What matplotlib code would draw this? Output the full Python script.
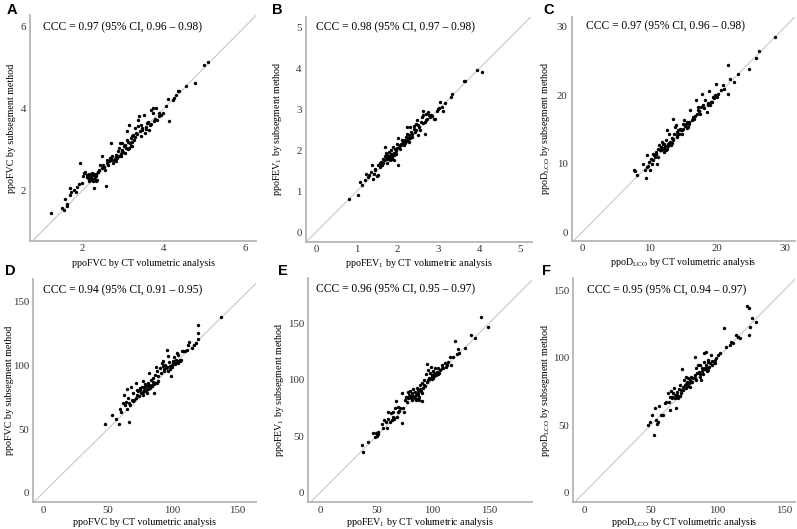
import matplotlib
matplotlib.use("Agg")
import matplotlib.pyplot as plt

plt.rcParams['font.family'] = ['Liberation Serif', 'DejaVu Serif']
plt.rcParams['mathtext.fontset'] = 'custom'
plt.rcParams['mathtext.rm'] = 'Liberation Serif'
plt.rcParams['mathtext.it'] = 'Liberation Serif:italic'

# ---- A: ppoFVC (L) ----
a_x = [1.24, 1.51, 1.55, 1.59, 1.63, 1.63, 1.70, 1.71, 1.73, 1.79, 1.84, 1.93, 1.94,
       2.08, 2.11, 2.14, 2.19, 2.22, 2.25, 2.27, 2.30, 2.33, 2.35, 2.37, 2.16, 2.29,
       2.41, 2.45, 2.48, 2.49, 2.53, 2.58, 2.60, 2.66, 2.70, 2.74, 2.77, 2.80, 2.82,
       2.86, 2.88, 2.91, 2.93, 2.70, 2.95, 2.99, 3.03, 3.05, 3.07, 3.09, 3.11, 3.15,
       3.18, 3.21, 3.23, 3.28, 3.32, 3.36, 3.40, 3.42, 3.44, 3.48, 3.51, 3.54, 3.60,
       3.65, 3.69, 3.73, 3.75, 3.77, 3.81, 3.85, 3.89, 3.93, 3.98, 4.06, 4.10, 4.14,
       4.22, 4.26, 4.30, 4.35, 4.39, 4.55, 4.76, 5.00, 5.10, 2.99, 3.23, 3.29, 3.37,
       3.44, 2.05, 2.12, 2.20, 2.24, 2.31, 2.38, 2.18, 2.26, 2.62, 2.72, 2.84, 2.96,
       3.01, 3.13, 3.19, 3.26, 3.58, 3.70, 2.15, 2.21, 2.28, 2.34, 2.40, 2.52, 2.56,
       2.64, 2.68, 2.78, 2.83, 2.90, 2.97, 3.06, 3.12, 3.16, 3.22, 3.30, 3.35, 3.46,
       3.56, 3.62, 3.67, 3.79, 3.88, 1.88, 2.00, 2.03]
a_y = [1.45, 1.58, 1.54, 1.80, 1.68, 1.62, 1.90, 2.07, 1.98, 2.02, 1.98, 2.17, 2.69,
       2.47, 2.39, 2.31, 2.27, 2.35, 2.43, 2.23, 2.28, 2.37, 2.41, 2.27, 2.23, 2.07,
       2.51, 2.63, 2.84, 2.55, 2.59, 2.11, 2.67, 2.72, 2.76, 2.84, 2.69, 2.77, 2.88,
       2.80, 2.96, 3.04, 3.16, 3.16, 2.84, 3.00, 3.08, 2.92, 3.04, 3.24, 3.45, 3.61,
       3.16, 3.08, 3.33, 3.24, 3.41, 3.73, 3.83, 3.45, 3.33, 3.53, 3.85, 3.41, 3.65,
       3.49, 3.98, 4.02, 3.89, 3.69, 4.02, 3.73, 3.81, 3.85, 3.89, 4.06, 4.24, 3.69,
       4.22, 4.26, 4.34, 4.42, 4.42, 4.54, 4.63, 5.07, 5.13, 3.16, 3.08, 3.53, 3.57,
       3.61, 2.44, 2.33, 2.36, 2.30, 2.34, 2.45, 2.42, 2.38, 2.74, 2.81, 2.73, 2.90,
       2.95, 3.02, 3.28, 3.37, 3.55, 3.62, 2.38, 2.30, 2.40, 2.25, 2.45, 2.62, 2.50,
       2.64, 2.80, 2.74, 2.83, 2.86, 2.94, 3.12, 3.20, 3.05, 3.18, 3.30, 3.38, 3.48,
       3.50, 3.67, 3.60, 3.75, 3.90, 2.10, 2.20, 2.37]

# ---- B: ppoFEV1 (L) ----
b_x = [0.82, 1.03, 1.07, 1.13, 1.21, 1.23, 1.27, 1.31, 1.35, 1.39, 1.41, 1.45, 1.49,
       1.52, 1.37, 1.53, 1.56, 1.57, 1.60, 1.62, 1.63, 1.66, 1.68, 1.70, 1.71, 1.73,
       1.75, 1.76, 1.78, 1.79, 1.82, 1.83, 1.84, 1.86, 1.88, 1.90, 1.92, 1.94, 1.96,
       1.98, 2.01, 2.02, 2.04, 2.06, 2.09, 2.10, 2.12, 2.15, 2.17, 2.19, 2.20, 2.23,
       2.23, 2.25, 2.27, 2.28, 2.31, 2.33, 2.35, 2.39, 2.41, 2.43, 2.45, 2.47, 2.50,
       2.51, 2.55, 2.58, 2.59, 2.61, 2.63, 2.66, 2.68, 2.69, 2.72, 2.74, 2.77, 2.80,
       2.84, 2.88, 2.92, 2.96, 3.00, 3.04, 3.08, 3.11, 3.15, 3.31, 3.33, 3.63, 3.65,
       3.94, 4.06, 1.80, 1.85, 1.72, 2.14, 2.22, 2.08, 1.95, 1.65, 1.74, 1.81, 1.87,
       1.91, 1.99, 2.05, 2.13, 2.18, 2.26, 2.30, 2.36, 2.44, 2.53, 2.62, 2.70, 2.82,
       2.98, 1.44, 1.58]
b_y = [0.81, 0.92, 1.22, 1.15, 1.27, 1.43, 1.35, 1.39, 1.47, 1.31, 1.43, 1.52, 1.37,
       1.39, 1.65, 1.64, 1.66, 1.60, 1.72, 1.64, 1.80, 1.77, 2.08, 1.85, 1.94, 1.69,
       1.88, 1.80, 1.96, 1.86, 1.76, 1.90, 2.00, 1.84, 2.08, 1.94, 1.77, 2.04, 1.92,
       2.15, 2.31, 1.65, 2.08, 2.02, 2.16, 2.26, 2.20, 2.12, 2.24, 2.18, 2.33, 2.41,
       2.57, 2.29, 2.20, 2.37, 2.57, 2.45, 2.33, 2.59, 2.53, 2.45, 2.65, 2.73, 2.61,
       2.37, 2.49, 2.69, 2.81, 2.97, 2.85, 2.69, 2.41, 2.89, 2.77, 2.93, 2.85, 2.81,
       2.83, 2.77, 2.77, 2.97, 3.04, 3.18, 3.06, 2.95, 3.16, 3.30, 3.38, 3.69, 3.68,
       3.97, 3.92, 1.82, 1.79, 1.78, 2.19, 2.22, 2.13, 1.98, 1.70, 1.82, 1.86, 1.92,
       1.88, 2.05, 2.12, 2.15, 2.21, 2.25, 2.31, 2.40, 2.50, 2.56, 2.66, 2.73, 2.87,
       3.02, 1.55, 1.68]

# ---- C: ppoDLCO (mL/min/mmHg) ----
c_x = [7.72, 7.87, 8.12, 9.10, 9.35, 9.49, 9.69, 9.59, 9.84, 9.98, 10.08, 10.18, 10.33,
       10.48, 10.57, 10.82, 10.97, 11.07, 11.31, 11.31, 11.46, 11.56, 11.66, 11.80,
       11.95, 12.05, 12.15, 12.30, 12.44, 12.54, 12.64, 12.79, 12.94, 13.03, 13.13,
       13.28, 13.43, 13.53, 13.63, 13.77, 13.92, 14.02, 14.12, 14.26, 14.41, 14.51,
       14.76, 14.90, 15.00, 15.10, 15.25, 15.39, 15.49, 15.74, 15.89, 15.98, 16.23,
       16.38, 16.48, 16.72, 16.87, 16.97, 17.12, 17.21, 17.46, 17.56, 17.81, 17.95,
       18.20, 18.45, 18.59, 18.84, 18.94, 19.03, 19.33, 19.67, 19.82, 19.92, 20.16,
       20.51, 20.90, 21.00, 21.64, 21.64, 21.89, 22.48, 23.12, 24.74, 25.73, 26.22,
       28.53, 12.20, 12.70, 13.30, 14.60, 15.60, 11.70, 18.70, 19.20, 11.00, 11.80,
       12.40, 12.90, 13.50, 14.00, 14.80, 15.30, 15.80, 16.60, 17.30, 18.00, 18.60,
       19.50, 10.60, 12.10]
c_y = [9.19, 8.99, 8.36, 9.97, 9.09, 7.97, 11.28, 9.58, 9.72, 10.31, 9.09, 10.79, 10.06,
       11.52, 10.55, 11.04, 11.76, 10.06, 12.25, 11.04, 12.74, 12.10, 12.49, 13.22,
       12.25, 12.88, 11.76, 12.59, 13.47, 12.25, 15.02, 12.98, 14.44, 13.22, 12.74,
       13.86, 13.47, 16.63, 14.44, 15.41, 15.65, 14.68, 13.95, 15.02, 14.44, 15.17,
       14.44, 15.90, 15.17, 16.38, 15.51, 15.80, 16.14, 15.41, 15.90, 17.94, 16.38,
       16.87, 16.63, 16.97, 19.40, 17.36, 18.33, 17.94, 17.36, 18.33, 20.27, 18.57,
       19.30, 17.60, 18.81, 20.66, 18.57, 19.06, 19.79, 20.03, 21.73, 19.79, 20.27,
       20.86, 21.49, 21.00, 24.41, 20.18, 22.46, 21.97, 23.09, 23.92, 25.47, 26.45,
       28.54, 12.40, 12.60, 13.10, 14.90, 15.30, 12.00, 18.60, 19.10, 11.50, 12.40,
       12.10, 13.00, 13.60, 14.20, 15.00, 15.70, 16.10, 16.50, 17.70, 18.20, 18.90,
       19.70, 11.30, 12.90]

# ---- D: ppoFVC (%) ----
d_x = [47.7, 52.8, 56.2, 58.8, 59.3, 59.8, 61.3, 62.4, 63.1, 63.9, 64.4, 64.9, 65.7,
       66.5, 67.0, 67.5, 68.3, 69.1, 69.6, 71.6, 71.6, 72.2, 72.7, 73.5, 74.2, 74.7,
       75.3, 76.0, 76.8, 77.3, 77.8, 78.6, 79.4, 79.9, 80.4, 81.2, 82.0, 82.5, 83.0,
       83.8, 84.5, 85.1, 85.6, 86.3, 87.1, 87.6, 88.1, 88.9, 90.2, 91.5, 92.3, 92.8,
       93.3, 94.1, 94.8, 95.4, 96.1, 96.6, 97.4, 97.9, 98.5, 99.2, 100.0, 100.5, 101.0,
       101.8, 102.6, 103.1, 103.9, 104.4, 105.7, 107.0, 108.2, 109.5, 110.8, 112.1,
       112.9, 114.7, 116.5, 118.0, 119.3, 119.8, 119.8, 137.1, 80.8, 83.4, 86.0, 78.0,
       98.0, 101.5, 104.0, 106.5, 75.0, 77.0, 80.0, 82.0, 84.0, 86.5, 88.5, 91.0,
       93.5, 96.0, 99.5, 102.0, 103.5, 106.0, 70.0, 66.0]
d_y = [53.8, 60.7, 58.0, 53.8, 65.7, 63.8, 70.4, 76.4, 69.1, 71.2, 81.7, 65.9, 74.3,
       55.4, 69.1, 82.7, 73.0, 71.7, 78.3, 74.3, 86.2, 80.9, 77.0, 79.6, 75.6, 82.2,
       78.3, 82.7, 88.0, 77.0, 80.9, 85.4, 79.6, 83.5, 78.3, 86.2, 94.0, 82.2, 88.8,
       84.8, 90.1, 86.9, 78.3, 92.7, 98.5, 86.2, 95.3, 91.4, 98.0, 101.9, 99.3, 103.8,
       95.9, 100.6, 98.0, 112.4, 107.2, 95.3, 102.7, 99.3, 91.4, 100.6, 103.8, 101.9,
       106.4, 103.2, 104.5, 109.8, 103.8, 108.0, 103.2, 111.6, 111.6, 111.1, 112.4,
       116.4, 118.5, 113.7, 116.4, 117.7, 121.1, 132.1, 125.6, 137.9, 81.5, 84.0, 85.5,
       83.0, 97.0, 102.5, 102.0, 104.0, 80.5, 79.0, 81.5, 84.5, 83.5, 86.0, 88.0, 94.0,
       97.5, 99.0, 98.5, 101.5, 102.5, 104.0, 73.0, 70.5]

# ---- E: ppoFEV1 (%) ----
e_x = [37.0, 38.5, 42.3, 47.3, 48.8, 49.4, 50.3, 51.2, 51.8, 54.7, 56.2, 57.1, 58.3,
       59.2, 60.1, 60.7, 62.1, 63.0, 63.6, 64.5, 65.1, 66.0, 66.6, 67.5, 68.0, 68.9,
       69.5, 71.0, 72.5, 73.1, 74.0, 74.9, 75.4, 76.0, 76.9, 77.8, 78.4, 79.0, 79.9,
       80.8, 81.4, 82.0, 82.8, 83.7, 84.3, 84.9, 85.8, 86.7, 87.3, 87.9, 88.8, 89.6,
       90.2, 90.8, 91.7, 92.6, 93.2, 93.8, 94.7, 95.6, 96.2, 96.7, 97.6, 98.5, 99.1,
       100.0, 100.6, 101.5, 102.1, 102.7, 103.6, 104.4, 105.0, 106.5, 108.0, 109.5,
       110.9, 112.4, 113.9, 115.4, 116.3, 118.3, 119.8, 121.3, 122.8, 123.7, 128.7,
       134.0, 137.6, 142.9, 149.4, 86.0, 88.0, 90.5, 84.5, 99.5, 104.0, 80.0, 82.5,
       85.0, 87.0, 89.0, 92.0, 95.0, 97.0, 99.5, 101.0, 103.0, 106.0, 108.5, 111.5,
       70.0, 66.0]
e_y = [42.2, 35.7, 44.6, 52.6, 49.6, 52.6, 50.5, 51.7, 54.0, 60.5, 57.6, 64.4, 62.3,
       57.0, 65.2, 71.7, 62.9, 70.3, 64.4, 67.3, 71.7, 65.2, 74.7, 81.2, 67.3, 76.2,
       71.7, 74.7, 88.0, 61.4, 74.7, 71.7, 82.1, 85.0, 80.6, 88.9, 83.6, 86.5, 90.0,
       83.6, 88.0, 82.1, 91.8, 85.0, 89.5, 82.1, 93.0, 86.5, 90.9, 85.0, 95.4, 90.0,
       81.2, 96.8, 92.4, 99.8, 94.8, 104.8, 113.7, 99.8, 108.7, 101.9, 105.7, 111.6,
       104.2, 101.3, 107.8, 105.7, 110.1, 104.2, 107.2, 104.8, 110.1, 108.7, 113.1,
       110.1, 114.6, 113.1, 116.0, 120.5, 113.1, 120.5, 134.3, 122.5, 127.3, 123.4,
       128.4, 139.7, 136.7, 155.9, 147.0, 83.0, 82.5, 88.5, 84.0, 101.0, 106.0, 86.0,
       85.5, 86.5, 88.0, 92.0, 95.5, 98.0, 100.5, 102.5, 103.0, 105.5, 106.0, 110.5,
       111.5, 72.0, 66.0]

# ---- F: ppoDLCO (%) ----
f_x = [48.0, 49.3, 51.2, 52.2, 53.0, 53.7, 55.0, 55.5, 56.2, 58.0, 59.2, 60.4, 61.7,
       62.9, 63.7, 64.2, 64.7, 65.4, 66.2, 66.7, 67.2, 67.9, 68.7, 69.2, 69.7, 70.4,
       71.1, 71.6, 72.1, 72.9, 73.6, 74.1, 74.6, 75.4, 76.1, 76.6, 77.1, 77.9, 78.6,
       79.1, 79.6, 80.3, 81.1, 81.6, 82.8, 82.8, 83.6, 84.1, 84.6, 85.3, 86.1, 86.6,
       87.1, 87.8, 88.6, 89.1, 89.6, 90.0, 90.5, 91.0, 91.5, 92.0, 92.8, 93.5, 94.0,
       95.3, 96.0, 97.0, 97.8, 99.0, 100.2, 101.5, 104.7, 106.5, 109.0, 110.2, 111.4,
       113.9, 115.2, 116.9, 121.9, 123.4, 123.9, 124.4, 125.9, 128.9, 68.0, 70.0, 90.8,
       92.3, 93.0, 72.5, 74.0, 76.5, 78.0, 80.5, 83.0, 86.5, 88.0, 90.0, 91.5, 93.0,
       95.5, 98.0, 70.0, 66.0]
f_y = [50.1, 52.6, 57.5, 42.7, 62.4, 53.8, 50.6, 52.1, 64.4, 57.5, 57.5, 66.1, 66.9,
       73.5, 67.4, 61.2, 71.1, 75.3, 69.8, 73.5, 77.2, 72.3, 62.4, 71.1, 74.8, 69.8,
       76.7, 71.8, 79.7, 73.5, 91.5, 76.0, 83.4, 79.7, 77.7, 85.9, 81.7, 84.6, 80.9,
       78.5, 83.4, 85.9, 82.2, 84.6, 100.7, 87.1, 83.4, 92.0, 88.3, 94.5, 89.6, 85.9,
       94.5, 83.4, 92.0, 87.6, 103.1, 97.0, 92.0, 104.4, 94.5, 90.1, 98.2, 93.3, 95.7,
       101.9, 94.5, 97.0, 95.7, 99.4, 101.9, 103.1, 122.1, 108.1, 109.3, 111.8, 110.6,
       116.7, 115.5, 114.7, 138.4, 116.7, 136.4, 122.9, 129.0, 126.6, 70.5, 72.0, 91.5,
       92.0, 90.5, 76.0, 78.0, 80.5, 79.0, 82.0, 85.0, 88.0, 90.0, 91.5, 92.5, 96.5,
       97.5, 98.5, 72.5, 71.0]

ccc_text = ["CCC = 0.97 (95% CI, 0.96 \u2013 0.98)",
            "CCC = 0.98 (95% CI, 0.97 \u2013 0.98)",
            "CCC = 0.97 (95% CI, 0.96 \u2013 0.98)",
            "CCC = 0.94 (95% CI, 0.91 \u2013 0.95)",
            "CCC = 0.96 (95% CI, 0.95 \u2013 0.97)",
            "CCC = 0.95 (95% CI, 0.94 \u2013 0.97)"]
letters = ["A", "B", "C", "D", "E", "F"]
names = ["ppoFVC", r"ppoFEV$_1$", r"ppoD$_{\mathrm{LCO}}$",
         "ppoFVC", r"ppoFEV$_1$", r"ppoD$_{\mathrm{LCO}}$"]
ticks = [[2, 4, 6], [0, 1, 2, 3, 4, 5], [0, 10, 20, 30],
         [0, 50, 100, 150], [0, 50, 100, 150], [0, 50, 100, 150]]
xlims = [(0.72, 6.27), (-0.25, 5.28), (-1.5, 31.5), (-7.7, 164.5), (-10.4, 188), (-8, 158)]
ylims = [(0.78, 6.28), (-0.23, 5.26), (-1.2, 31.5), (-7.6, 168), (-8.5, 190), (-7, 158.7)]
xs = [a_x, b_x, c_x, d_x, e_x, f_x]
ys = [a_y, b_y, c_y, d_y, e_y, f_y]

# axes boxes in pixels: left, right, top, bottom
W, H = 797, 529
boxes = [(30, 256, 15, 241), (305.7, 531.7, 16.7, 241.7), (571.7, 795, 16.7, 240.7),
         (33.3, 256, 279, 502.3), (308.3, 531.7, 278.3, 502.3), (573.3, 795, 278.3, 502.3)]
ccc_pos = [(0.057, 0.947), (0.044, 0.954), (0.064, 0.955),
           (0.045, 0.951), (0.033, 0.951), (0.060, 0.948)]
letter_pos = [(7, 10), (272, 10), (543, 10), (5, 271), (278, 271), (542, 271)]
ylabel_x = [12, 278, 545, 10, 280, 545]   # centre of y label, pixels
xlabel_gap = [22, 22, 22, 20, 20, 20]     # axis bottom to x label centre, pixels

fig = plt.figure(figsize=(W / 100, H / 100), dpi=100)

for i in range(6):
    l, r, t, b = boxes[i]
    ax = fig.add_axes([l / W, 1 - b / H, (r - l) / W, (b - t) / H])
    ax.plot([-100, 300], [-100, 300], color='#c8c8c8', lw=0.8, zorder=1)
    ax.scatter(xs[i], ys[i], s=6, color='black', linewidths=0, zorder=2)
    ax.set_xlim(xlims[i])
    ax.set_ylim(ylims[i])
    ax.set_xticks(ticks[i])
    ax.set_yticks(ticks[i])
    ax.tick_params(axis='x', length=0, labelsize=7.8, colors='#333333', pad=2.5)
    ax.tick_params(axis='y', length=0, labelsize=7.8, colors='#333333', pad=3)
    for s in ['top', 'right']:
        ax.spines[s].set_visible(False)
    for s in ['left', 'bottom']:
        ax.spines[s].set_color('#b5b5b5')
        ax.spines[s].set_linewidth(1.3)
    ax.set_xlabel(names[i] + " by CT volumetric analysis", fontsize=7.2, va='center')
    ax.xaxis.set_label_coords(0.5, -xlabel_gap[i] / (b - t))
    ax.set_ylabel(names[i] + " by subsegment method", fontsize=7.2, va='center')
    ax.yaxis.set_label_coords((ylabel_x[i] - l) / (r - l), 0.5)
    ax.text(ccc_pos[i][0], ccc_pos[i][1], ccc_text[i], transform=ax.transAxes,
            fontsize=8.3, va='center', ha='left')
    fig.text(letter_pos[i][0] / W, 1 - letter_pos[i][1] / H, letters[i],
             fontsize=10.5, fontweight='bold', family='Liberation Sans',
             va='center', ha='left')

fig.savefig("out.png", dpi=100)
